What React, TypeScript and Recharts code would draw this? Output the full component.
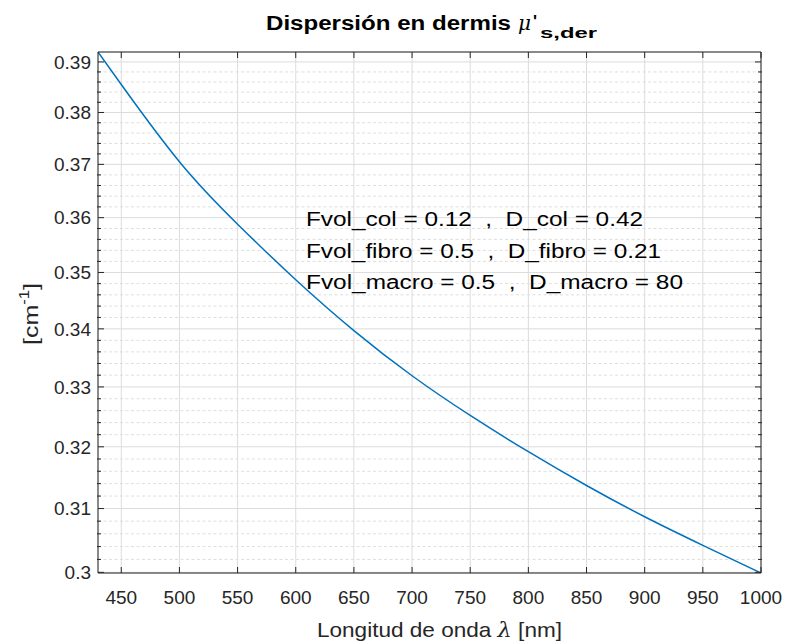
import { LineChart, Line, XAxis, YAxis, CartesianGrid, ReferenceLine } from 'recharts'

// wavelength (nm) vs reduced scattering in dermis (cm^-1)
const wavelengths = [430, 450, 500, 550, 600, 650, 700, 750, 800, 850, 900, 950, 1000]
const musDer = [0.392, 0.3855, 0.3705, 0.3588, 0.3487, 0.3397, 0.3319, 0.3252, 0.3192, 0.3137, 0.3087, 0.3042, 0.2999]

const xTicks = [450, 500, 550, 600, 650, 700, 750, 800, 850, 900, 950, 1000]
const yTicks = [0.3, 0.31, 0.32, 0.33, 0.34, 0.35, 0.36, 0.37, 0.38, 0.39]
const minorSteps = [0.002, 0.004, 0.006, 0.008]

const notes = [
  'Fvol_col = 0.12  ,  D_col = 0.42',
  'Fvol_fibro = 0.5  ,  D_fibro = 0.21',
  'Fvol_macro = 0.5  ,  D_macro = 80',
]
const noteWidths = [337, 355, 377]

const data = wavelengths.map((w, i) => ({ w, mu: musDer[i] }))
const yDomain = [Math.min(...musDer), Math.max(...musDer)]
const yMinorTicks = yTicks
  .flatMap((t) => minorSteps.map((d) => +(t + d).toFixed(3)))
  .filter((t) => t < yDomain[1])

const FONT = '"Liberation Sans", Arial, sans-serif'
const AX = '#262626'
const tickFont = { fontSize: 19, fill: AX, fontFamily: FONT }
const noLabel = () => <g />

// axes need a non-zero size to be drawn, so each one eats 1px of margin
export default function App() {
  return (
    <div style={{ position: 'absolute', left: 0, top: 0, width: 787, height: 644, background: '#fff' }}>
      <LineChart width={787} height={644} data={data} margin={{ top: 51, right: 24, bottom: 70, left: 96 }}>
        <CartesianGrid stroke="#dcdcdc" />
        {yMinorTicks.map((v) => (
          <ReferenceLine key={v} y={v} stroke="#dedede" strokeDasharray="3 2.5" />
        ))}
        <XAxis
          dataKey="w"
          type="number"
          domain={[430, 1000]}
          allowDataOverflow
          ticks={xTicks}
          interval={0}
          height={1}
          tickSize={-6}
          tickMargin={24}
          tick={tickFont}
          stroke={AX}
          tickLine={{ stroke: AX }}
        />
        <XAxis
          xAxisId="top"
          orientation="top"
          dataKey="w"
          type="number"
          domain={[430, 1000]}
          allowDataOverflow
          ticks={xTicks}
          interval={0}
          height={1}
          tickSize={-6}
          tick={noLabel}
          stroke={AX}
          tickLine={{ stroke: AX }}
        />
        <YAxis
          type="number"
          scale="log"
          domain={yDomain}
          allowDataOverflow
          ticks={yTicks}
          interval={0}
          width={1}
          tickSize={-6}
          tickMargin={13}
          tick={tickFont}
          stroke={AX}
          tickLine={{ stroke: AX }}
        />
        <YAxis
          yAxisId="lminor"
          type="number"
          scale="log"
          domain={yDomain}
          allowDataOverflow
          ticks={yMinorTicks}
          interval={0}
          width={1}
          tickSize={-4}
          tick={noLabel}
          axisLine={false}
          tickLine={{ stroke: AX }}
        />
        <YAxis
          yAxisId="right"
          orientation="right"
          type="number"
          scale="log"
          domain={yDomain}
          allowDataOverflow
          ticks={yTicks}
          interval={0}
          width={1}
          tickSize={-6}
          tick={noLabel}
          stroke={AX}
          tickLine={{ stroke: AX }}
        />
        <YAxis
          yAxisId="rminor"
          orientation="right"
          type="number"
          scale="log"
          domain={yDomain}
          allowDataOverflow
          ticks={yMinorTicks}
          interval={0}
          width={1}
          tickSize={-4}
          tick={noLabel}
          axisLine={false}
          tickLine={{ stroke: AX }}
        />
        <Line
          type="natural"
          dataKey="mu"
          stroke="#0072BD"
          strokeWidth={1.5}
          dot={false}
          isAnimationActive={false}
        />
      </LineChart>

      <svg
        width={787}
        height={644}
        style={{ position: 'absolute', left: 0, top: 0, pointerEvents: 'none' }}
        fontFamily={FONT}
      >
        {/* title */}
        <text x={266} y={30} fontSize={20} fontWeight="bold" fill="#000" textLength={245} lengthAdjust="spacingAndGlyphs">
          Dispersión en dermis
        </text>
        <text x={518} y={30} fontSize={20} fontStyle="italic" fontFamily='"DejaVu Serif", serif' fill="#000">
          μ
        </text>
        <text x={533} y={27} fontSize={17} fontWeight="bold" fill="#000">
          '
        </text>
        <text x={540} y={38} fontSize={15} fontWeight="bold" fill="#000" textLength={57} lengthAdjust="spacingAndGlyphs">
          s,der
        </text>

        {/* annotation */}
        {notes.map((t, i) => (
          <text
            key={t}
            x={306}
            y={226 + i * 31.7}
            fontSize={20}
            fill="#000"
            style={{ whiteSpace: 'pre' }}
            textLength={noteWidths[i]}
            lengthAdjust="spacingAndGlyphs"
          >
            {t}
          </text>
        ))}

        {/* x label */}
        <text x={317} y={637} fontSize={21} fill={AX} textLength={245} lengthAdjust="spacingAndGlyphs">
          Longitud de onda <tspan fontStyle="italic" fontFamily='"DejaVu Serif", serif'>λ</tspan> [nm]
        </text>

        {/* y label */}
        <text
          transform="translate(38 345) rotate(-90)"
          fontSize={21}
          fill={AX}
          textLength={62}
          lengthAdjust="spacingAndGlyphs"
        >
          [cm<tspan fontSize={14} dy={-9}>-1</tspan>
          <tspan dy={9}>]</tspan>
        </text>
      </svg>
    </div>
  )
}
